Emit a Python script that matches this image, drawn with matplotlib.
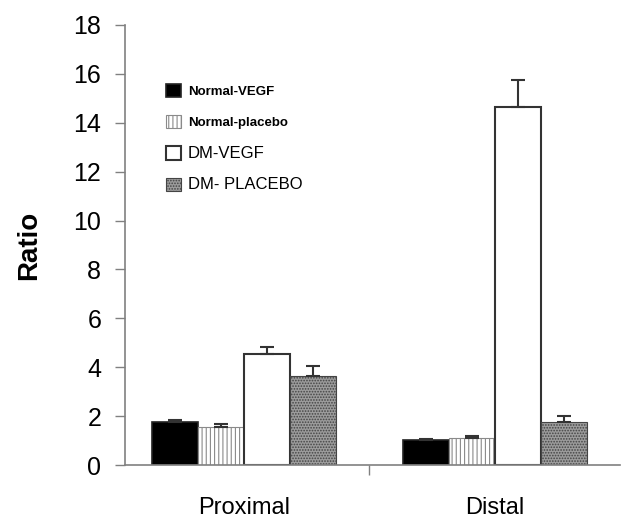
import numpy as np
import matplotlib
matplotlib.use("Agg")
import matplotlib.pyplot as plt

plt.rcParams['font.family'] = ['Liberation Sans', 'DejaVu Sans']
plt.rcParams['hatch.linewidth'] = 0.8

regions = ["Proximal", "Distal"]
groups = ["Normal-VEGF", "Normal-placebo", "DM-VEGF", "DM- PLACEBO"]
ratio = {
    "Normal-VEGF": [1.78, 1.02],
    "Normal-placebo": [1.55, 1.10],
    "DM-VEGF": [4.55, 14.65],
    "DM- PLACEBO": [3.65, 1.75],
}
err = {
    "Normal-VEGF": [0.08, 0.05],
    "Normal-placebo": [0.12, 0.10],
    "DM-VEGF": [0.28, 1.10],
    "DM- PLACEBO": [0.38, 0.25],
}
yticks = [0, 2, 4, 6, 8, 10, 12, 14, 16, 18]

faces = ["black", "white", "white", "#9c9c9c"]
edges = ["#222222", "#8a8a8a", "#333333", "#444444"]
hatches = [None, "||||", None, "......"]
lws = [1.2, 0.8, 1.5, 0.8]

fig = plt.figure(figsize=(6.23, 5.19), dpi=100)
ax = fig.add_axes([0.2006, 0.104, 0.7945, 0.848])

x = np.arange(len(regions))
w = 0.183
for i, g in enumerate(groups):
    pos = x + (i - 1.5) * w
    ax.bar(pos, ratio[g], w, color=faces[i], edgecolor=edges[i],
           hatch=hatches[i], linewidth=lws[i], label=g, zorder=2)
    ax.errorbar(pos, ratio[g], yerr=[np.zeros(len(regions)), err[g]],
                fmt="none", ecolor="#333333", elinewidth=1.5, capsize=5,
                capthick=1.5, zorder=3)

ax.set_xlim(-0.474, 1.498)
ax.set_ylim(0, 18)
ax.set_yticks(yticks)
ax.set_xticks(x)
ax.set_xticklabels(regions, fontsize=17)
ax.set_xticks([0.5], minor=True)
ax.tick_params(axis="x", which="major", length=0, pad=23)
ax.tick_params(axis="x", which="minor", length=7, color="#808080", width=1)
ax.tick_params(axis="y", labelsize=18, length=7, color="#808080", width=1, pad=10)
ax.set_ylabel("Ratio", fontsize=20, fontweight="bold")
ax.yaxis.set_label_coords(-0.168, 0.5)

for s in ["top", "right"]:
    ax.spines[s].set_visible(False)
for s in ["left", "bottom"]:
    ax.spines[s].set_color("#808080")
    ax.spines[s].set_linewidth(1.2)

leg = ax.legend(loc="upper left", bbox_to_anchor=(0.058, 0.895), frameon=False,
                fontsize=10, handlelength=1.1, handleheight=1.1,
                labelspacing=1.2, handletextpad=0.45)
sizes = [9.5, 9.5, 12, 12]
weights = ["bold", "bold", "normal", "normal"]
for t, s, wt in zip(leg.get_texts(), sizes, weights):
    t.set_fontsize(s)
    t.set_fontweight(wt)

fig.savefig("out.png", dpi=100)
